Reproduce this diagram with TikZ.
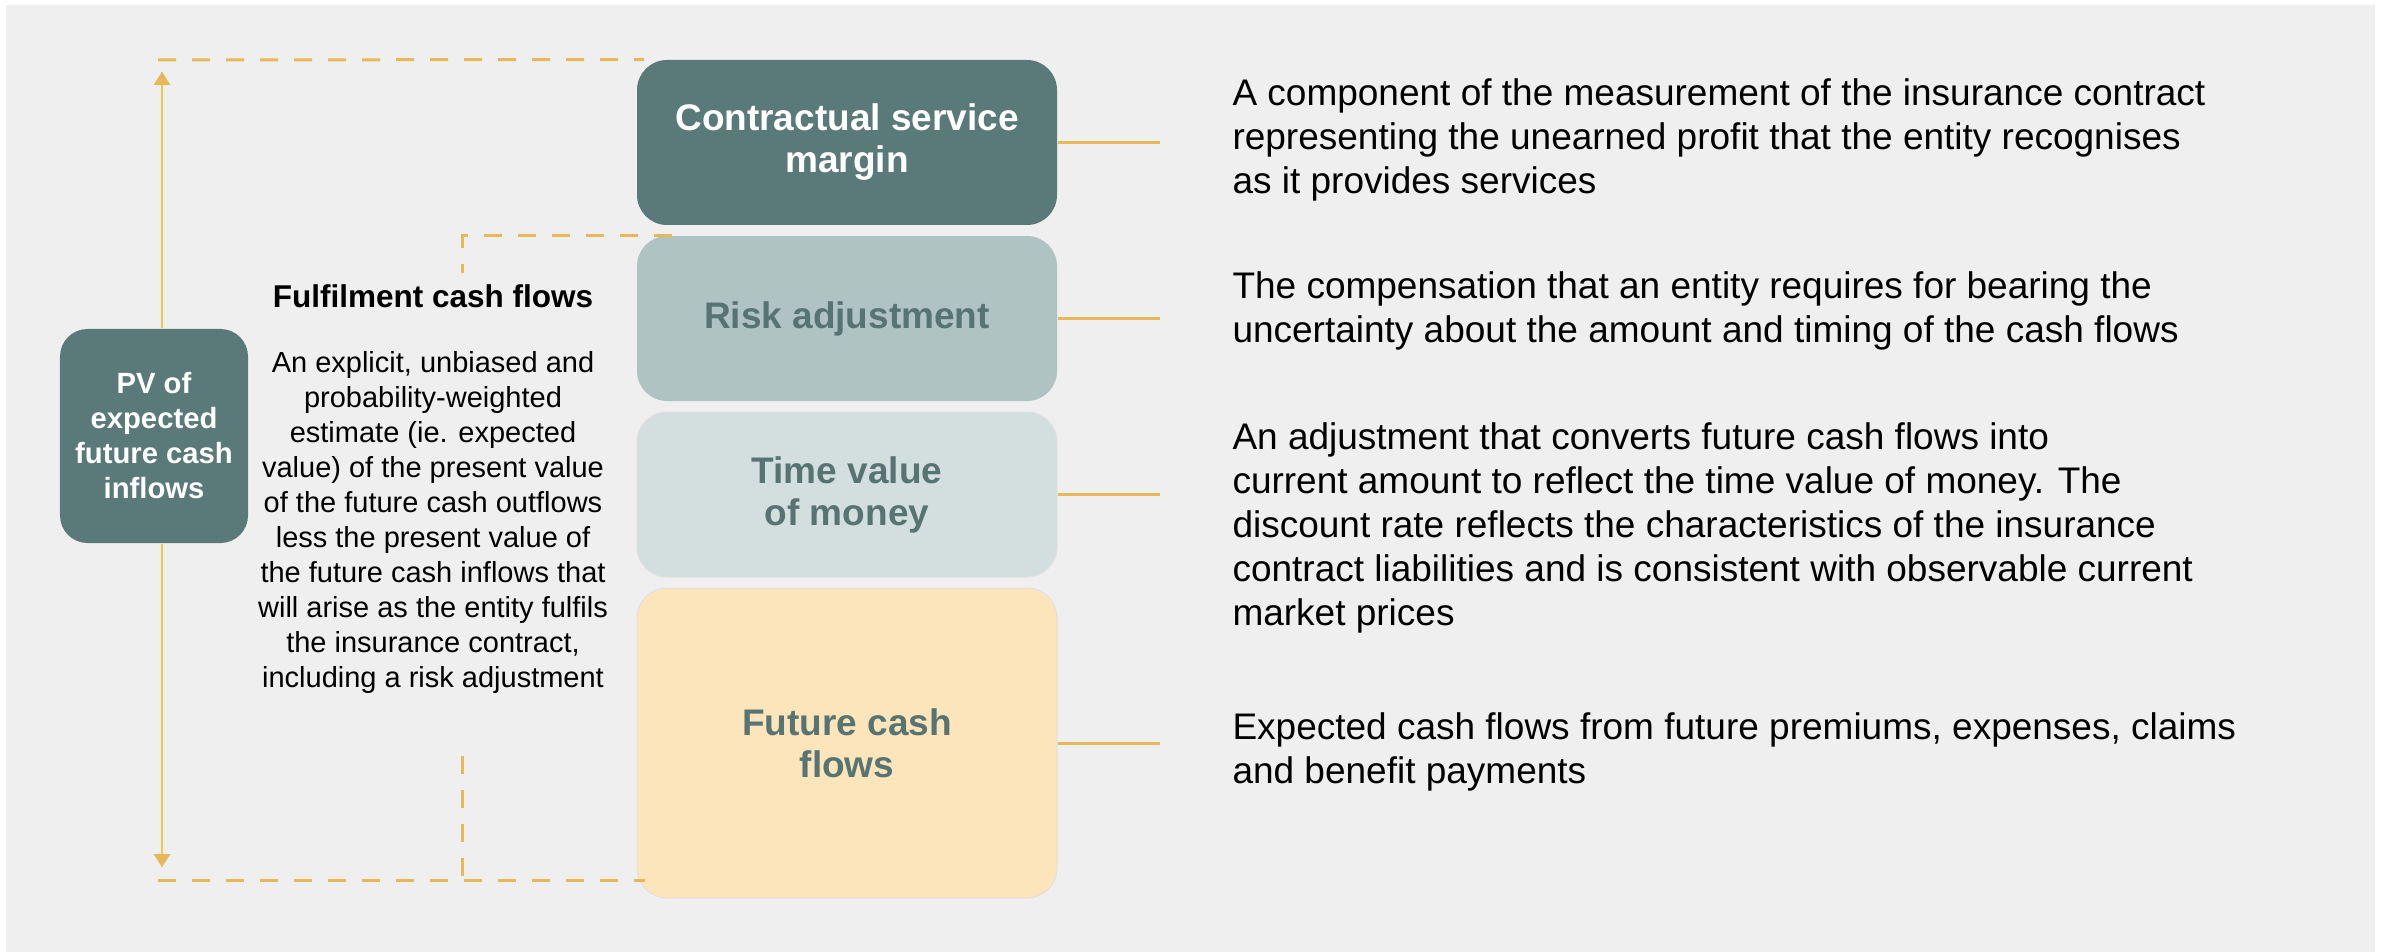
\documentclass[tikz,border=0pt]{standalone}
\usepackage{fontspec}
\setmainfont{Liberation Sans}
\usepackage{tikz}
\usetikzlibrary{positioning}
\definecolor{panelgrey}{HTML}{EFEFEF}
\definecolor{tealdark}{HTML}{5A7A79}
\definecolor{tealmid}{HTML}{AFC3C2}
\definecolor{teallight}{HTML}{D3DEDE}
\definecolor{sand}{HTML}{FDE5BB}
\definecolor{tealtext}{HTML}{587472}
\definecolor{gold}{HTML}{E6B85A}
\definecolor{goldline}{HTML}{F0C850}

\begin{document}
\begin{tikzpicture}[x=0.4pt,y=0.4pt]
\tikzstyle{every node}+=[inner sep=0pt]
\tikzstyle{layer}=[rounded corners=12pt, minimum width=168pt, align=center, font=\fontsize{14.8}{16.8}\selectfont\bfseries]
\tikzstyle{desc}=[anchor=base west, align=left, font=\fontsize{14.8}{17.6}\selectfont]
\tikzstyle{guide}=[gold, line width=1.2pt, dash pattern=on 7.2pt off 6.4pt]
\tikzstyle{link}=[gold, line width=1.2pt]
\useasboundingbox (0,0) rectangle (2384,-952);
\fill [white] (0,0) rectangle (2384,-952);
\fill [panelgrey] (6,-5) rectangle (2375,-952);
\coordinate (topleft) at (158,-60);
\coordinate (botleft) at (158,-880);
\coordinate (botright) at (645,-880);
\coordinate (notchtop) at (462,-273);
\coordinate (notchbot) at (462,-756);
\coordinate (uptip) at (162,-72);
\coordinate (downtip) at (162,-867);
\coordinate (linkx) at (1160,0);
\node [layer, fill=tealdark, text=white, minimum height=66pt] (csm) at (847,-142.5) {Contractual service\\margin};
\node [layer, fill=tealmid, text=tealtext, minimum height=66pt, below=4pt of csm] (ra) {Risk adjustment};
\node [layer, fill=teallight, draw=black!12, text=tealtext, minimum height=66pt, below=4pt of ra] (tvm) {Time value\\of money};
\node [layer, fill=sand, draw=black!12, text=tealtext, minimum height=124pt, below=4pt of tvm] (fcf) {Future cash\\flows};
\draw [guide] (topleft) -- ([xshift=3pt]csm.north west);
\draw [guide] ([xshift=14pt]ra.north west) -| (notchtop);
\draw [guide] (botleft) -- (botright);
\draw [guide] (notchbot) -- (notchbot |- botleft);
\node [fill=tealdark, text=white, rounded corners=11pt, minimum width=75.2pt, minimum height=85.6pt, align=center, font=\fontsize{11.7}{14}\selectfont\bfseries] (pv) at (154,-436) {PV of\\expected\\future cash\\inflows};
\draw [goldline, line width=0.6pt] (pv.north -| uptip) -- (uptip);
\fill [gold] (uptip) -- ++(-8.5,-13) -- ++(17,0) -- cycle;
\draw [goldline, line width=0.6pt] (pv.south -| downtip) -- (downtip);
\fill [gold] (downtip) -- ++(-8.5,13) -- ++(17,0) -- cycle;
\node [anchor=base, font=\fontsize{12.6}{14}\selectfont\bfseries] (fcfhead) at (433,-307) {Fulfilment cash flows};
\node [anchor=base, align=center, font=\fontsize{11.6}{14}\selectfont] (fcfbody) at (433,-687) {An explicit, unbiased and\\probability-weighted\\estimate (ie. expected\\value) of the present value\\of the future cash outflows\\less the present value of\\the future cash inflows that\\will arise as the entity fulfils\\the insurance contract,\\including a risk adjustment};
\draw [link] (csm.east) -- (csm.east -| linkx);
\draw [link] (ra.east) -- (ra.east -| linkx);
\draw [link] (tvm.east) -- (tvm.east -| linkx);
\draw [link] (fcf.east) -- (fcf.east -| linkx);
\node [desc] (csmnote) at (1232,-194) {A component of the measurement of the insurance contract\\representing the unearned profit that the entity recognises\\as it provides services};
\node [desc] (ranote) at (1232,-342) {The compensation that an entity requires for bearing the\\uncertainty about the amount and timing of the cash flows};
\node [desc] (tvmnote) at (1232,-625) {An adjustment that converts future cash flows into\\current amount to reflect the time value of money. The\\discount rate reflects the characteristics of the insurance\\contract liabilities and is consistent with observable current\\market prices};
\node [desc] (fcfnote) at (1232,-783) {Expected cash flows from future premiums, expenses, claims\\and benefit payments};
\end{tikzpicture}
\end{document}
